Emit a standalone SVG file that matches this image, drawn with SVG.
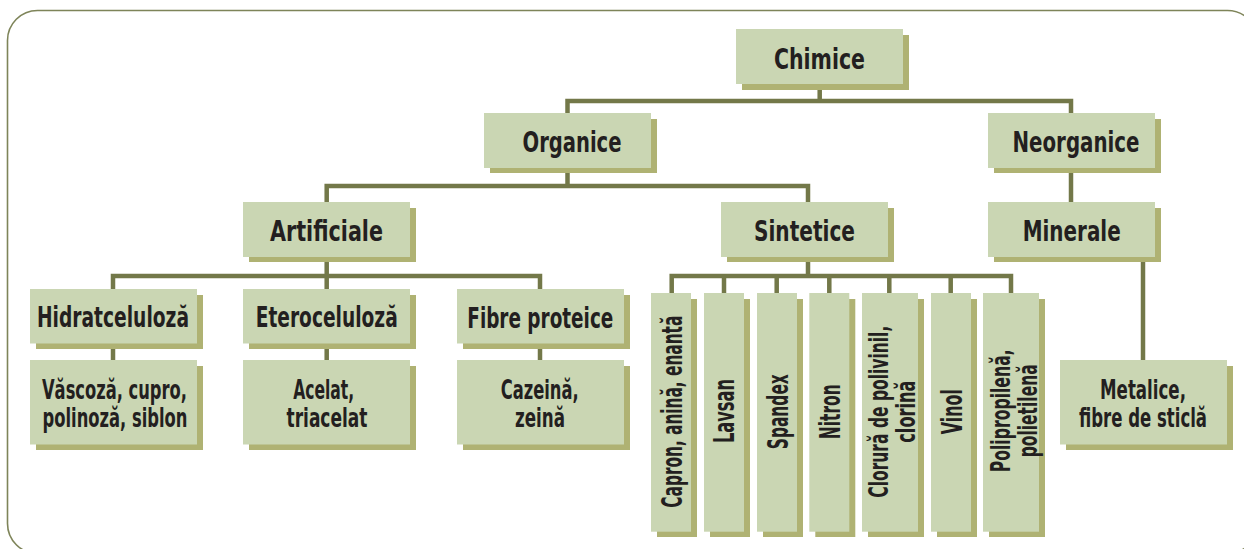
<svg xmlns="http://www.w3.org/2000/svg" width="1244" height="549" viewBox="0 0 1244 549">
<style>
.frame{fill:none;stroke:#7e8459;stroke-width:1.6}
.sh{fill:#afb273}
.bx{fill:#cad6b3}
.ln{fill:none;stroke:#737849;stroke-width:4.5;stroke-linejoin:miter;stroke-linecap:butt}
text{font-family:"Liberation Sans Narrow","DejaVu Sans Condensed","Liberation Sans",sans-serif;font-weight:bold;font-size:29px;fill:#231f20;text-anchor:middle}
text.two{font-size:27px}
</style>
<rect class="frame" x="7.5" y="10.5" width="1250" height="543" rx="30" ry="30"/>
<g id="connectors">
<path class="ln" d="M819.7,84 V101 M567.5,113 V101 H1071 V113"/>
<path class="ln" d="M567.5,168 V186 M326.7,202 V186 H808 V202"/>
<path class="ln" d="M1071,168 V202"/>
<path class="ln" d="M326.7,257 V289 M113,289 V276 H540 V289"/>
<path class="ln" d="M113,343 V360 M326.7,343 V360 M540,343 V360"/>
<path class="ln" d="M808,257 V276 M671.7,293 V276 H1011 V293 M724,276 V293 M776.7,276 V293 M829.3,276 V293 M889.3,276 V293 M950.7,276 V293"/>
<path class="ln" d="M1143,257 V360"/>
</g>
<g id="chimice"><rect class="sh" x="742" y="35" width="167" height="55"/><rect class="bx" x="736" y="29" width="167" height="55"/><text x="819.5" y="68.5" textLength="91" lengthAdjust="spacingAndGlyphs">Chimice</text></g>
<g id="organice"><rect class="sh" x="490" y="119" width="167" height="54"/><rect class="bx" x="484" y="113" width="167" height="55"/><text x="572" y="151.7" textLength="99" lengthAdjust="spacingAndGlyphs">Organice</text></g>
<g id="neorganice"><rect class="sh" x="994" y="119" width="167" height="54"/><rect class="bx" x="988" y="113" width="167" height="55"/><text x="1076" y="151.7" textLength="127" lengthAdjust="spacingAndGlyphs">Neorganice</text></g>
<g id="artificiale"><rect class="sh" x="249" y="208" width="167" height="54"/><rect class="bx" x="243" y="202" width="167" height="55"/><text x="326.5" y="240.7" textLength="113" lengthAdjust="spacingAndGlyphs">Artificiale</text></g>
<g id="sintetice"><rect class="sh" x="727" y="208" width="167" height="54"/><rect class="bx" x="721" y="202" width="167" height="55"/><text x="804.5" y="240.5" textLength="101" lengthAdjust="spacingAndGlyphs">Sintetice</text></g>
<g id="minerale"><rect class="sh" x="994" y="208" width="167" height="54"/><rect class="bx" x="988" y="202" width="167" height="55"/><text x="1071.7" y="240.7" textLength="98" lengthAdjust="spacingAndGlyphs">Minerale</text></g>
<g id="hidratceluloza"><rect class="sh" x="36" y="295" width="167" height="54"/><rect class="bx" x="30" y="289" width="167" height="54.5"/><text x="113" y="327.3" textLength="152" lengthAdjust="spacingAndGlyphs">Hidratceluloză</text></g>
<g id="eteroceluloza"><rect class="sh" x="249" y="295" width="167" height="54"/><rect class="bx" x="243" y="289" width="167" height="54.5"/><text x="326.7" y="327.3" textLength="142" lengthAdjust="spacingAndGlyphs">Eteroceluloză</text></g>
<g id="fibre-proteice"><rect class="sh" x="463" y="295" width="167" height="54"/><rect class="bx" x="457" y="289" width="167" height="54.5"/><text x="540.3" y="327.8" textLength="146" lengthAdjust="spacingAndGlyphs">Fibre proteice</text></g>
<g id="vascoza"><rect class="sh" x="36" y="366" width="167" height="84"/><rect class="bx" x="30" y="360" width="167" height="84.5"/><text class="two" x="114.5" y="399" textLength="145" lengthAdjust="spacingAndGlyphs">Văscoză, cupro,</text><text class="two" x="115" y="427" textLength="145" lengthAdjust="spacingAndGlyphs">polinoză, siblon</text></g>
<g id="acelat"><rect class="sh" x="249" y="366" width="167" height="84"/><rect class="bx" x="243" y="360" width="167" height="84.5"/><text class="two" x="323.7" y="399" textLength="61" lengthAdjust="spacingAndGlyphs">Acelat,</text><text class="two" x="327" y="427" textLength="81" lengthAdjust="spacingAndGlyphs">triacelat</text></g>
<g id="cazeina"><rect class="sh" x="463" y="366" width="167" height="84"/><rect class="bx" x="457" y="360" width="167" height="84.5"/><text class="two" x="539.7" y="399" textLength="78" lengthAdjust="spacingAndGlyphs">Cazeină,</text><text class="two" x="540" y="427" textLength="50" lengthAdjust="spacingAndGlyphs">zeină</text></g>
<g id="metalice"><rect class="sh" x="1066" y="366" width="167" height="84"/><rect class="bx" x="1060" y="360" width="167" height="84.5"/><text class="two" x="1143" y="398.5" textLength="86" lengthAdjust="spacingAndGlyphs">Metalice,</text><text class="two" x="1143" y="426.7" textLength="128" lengthAdjust="spacingAndGlyphs">fibre de sticlă</text></g>
<g id="capron"><rect class="sh" x="657" y="299" width="40" height="238"/><rect class="bx" x="651" y="293" width="40" height="238.7"/><text transform="translate(681.5,411.7) rotate(-90)" textLength="192" lengthAdjust="spacingAndGlyphs">Capron, anină, enantă</text></g>
<g id="lavsan"><rect class="sh" x="710" y="299" width="40" height="238"/><rect class="bx" x="704" y="293" width="40" height="238.7"/><text transform="translate(734,411) rotate(-90)" textLength="64" lengthAdjust="spacingAndGlyphs">Lavsan</text></g>
<g id="spandex"><rect class="sh" x="763" y="299" width="40" height="238"/><rect class="bx" x="757" y="293" width="40" height="238.7"/><text transform="translate(787.5,411.7) rotate(-90)" textLength="75" lengthAdjust="spacingAndGlyphs">Spandex</text></g>
<g id="nitron"><rect class="sh" x="815.3" y="299" width="40" height="238"/><rect class="bx" x="809.3" y="293" width="40" height="238.7"/><text transform="translate(839.5,411.7) rotate(-90)" textLength="55" lengthAdjust="spacingAndGlyphs">Nitron</text></g>
<g id="clorura"><rect class="sh" x="868" y="299" width="56" height="238"/><rect class="bx" x="862" y="293" width="56" height="238.7"/><text class="two" transform="translate(888,411.7) rotate(-90)" textLength="172" lengthAdjust="spacingAndGlyphs">Clorură de polivinil,</text><text class="two" transform="translate(915,411.7) rotate(-90)" textLength="62" lengthAdjust="spacingAndGlyphs">clorină</text></g>
<g id="vinol"><rect class="sh" x="937" y="299" width="40" height="238"/><rect class="bx" x="931" y="293" width="40" height="238.7"/><text transform="translate(961.5,411.7) rotate(-90)" textLength="45" lengthAdjust="spacingAndGlyphs">Vinol</text></g>
<g id="polipropilena"><rect class="sh" x="989" y="299" width="56" height="238"/><rect class="bx" x="983" y="293" width="56" height="238.7"/><text class="two" transform="translate(1009.5,410.8) rotate(-90)" textLength="123" lengthAdjust="spacingAndGlyphs">Polipropilenă,</text><text class="two" transform="translate(1037,410.8) rotate(-90)" textLength="93" lengthAdjust="spacingAndGlyphs">polietilenă</text></g>
</svg>
